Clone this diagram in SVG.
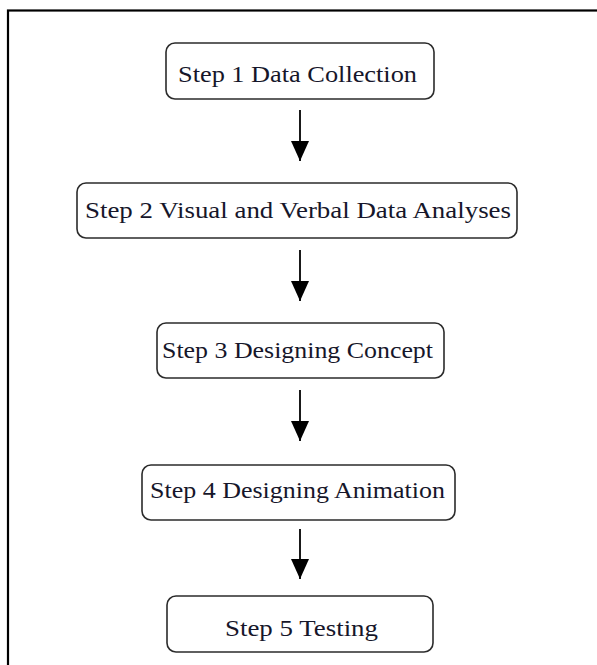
<svg xmlns="http://www.w3.org/2000/svg" width="597" height="665" viewBox="0 0 597 665">
  <defs>
    <style>
      .frame { fill: none; stroke: #000; stroke-width: 2.2; }
      .box { fill: #fff; stroke: #2b2b2b; stroke-width: 1.6; }
      .label { font-family: "Liberation Serif", "Times New Roman", serif; font-size: 24px; fill: #16162a; text-anchor: middle; }
      .link { stroke: #000; stroke-width: 1.8; fill: none; marker-end: url(#head); }
    </style>
    <!-- filled triangular arrowhead; tip sits on the line end -->
    <marker id="head" viewBox="0 0 20 18" refX="20" refY="9" markerWidth="20" markerHeight="18" markerUnits="userSpaceOnUse" orient="auto">
      <path d="M0,0 L20,9 L0,18 Z" fill="#000"/>
    </marker>
  </defs>

  <rect width="597" height="665" fill="#fff"/>

  <!-- outer frame -->
  <rect class="frame" x="8" y="10.5" width="620" height="700"/>

  <g id="step1">
    <rect class="box" x="166" y="43" width="268" height="56" rx="9"/>
    <text class="label" x="297.5" y="82" textLength="239" lengthAdjust="spacingAndGlyphs">Step 1 Data Collection</text>
  </g>

  <g id="step2">
    <rect class="box" x="77" y="183" width="440" height="55" rx="9"/>
    <text class="label" x="298" y="218" textLength="426" lengthAdjust="spacingAndGlyphs">Step 2 Visual and Verbal Data Analyses</text>
  </g>

  <g id="step3">
    <rect class="box" x="157" y="323" width="287" height="55" rx="9"/>
    <text class="label" x="297.5" y="358" textLength="271" lengthAdjust="spacingAndGlyphs">Step 3 Designing Concept</text>
  </g>

  <g id="step4">
    <rect class="box" x="142" y="465" width="313" height="55" rx="9"/>
    <text class="label" x="297.5" y="498" textLength="295" lengthAdjust="spacingAndGlyphs">Step 4 Designing Animation</text>
  </g>

  <g id="step5">
    <rect class="box" x="167" y="596" width="266" height="56" rx="9"/>
    <text class="label" x="301.5" y="636" textLength="153" lengthAdjust="spacingAndGlyphs">Step 5 Testing</text>
  </g>

  <g id="connectors">
    <line class="link" x1="300" y1="110" x2="300" y2="161"/>
    <line class="link" x1="300" y1="250" x2="300" y2="301"/>
    <line class="link" x1="300" y1="390" x2="300" y2="441"/>
    <line class="link" x1="300" y1="529" x2="300" y2="579"/>
  </g>
</svg>
